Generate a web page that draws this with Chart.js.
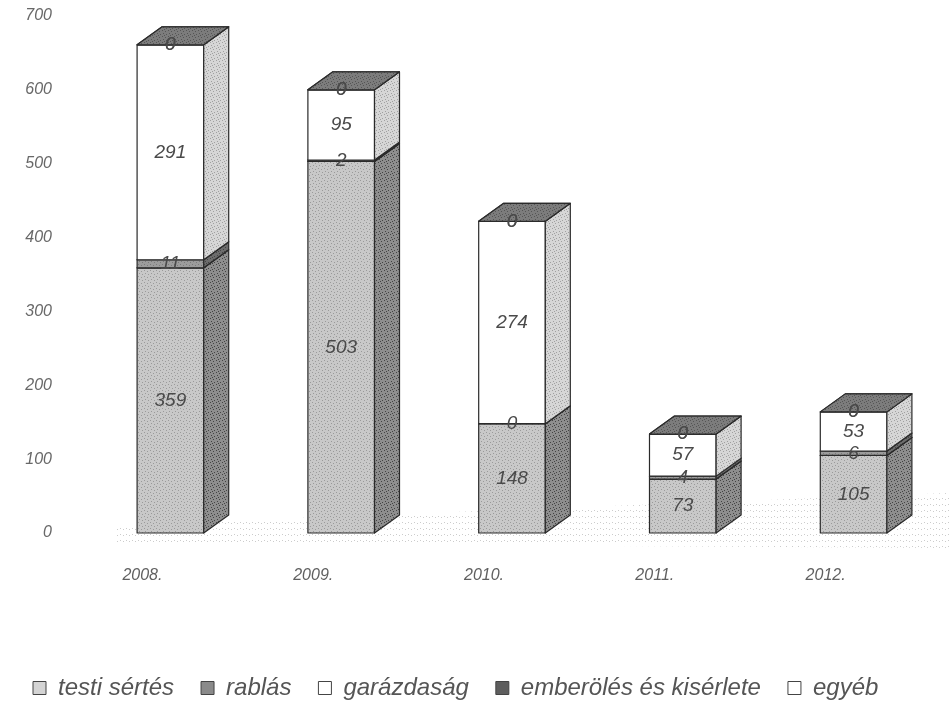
<!DOCTYPE html>
<html>
<head>
<meta charset="utf-8">
<script src="https://cdn.jsdelivr.net/npm/chart.js@4.4.1/dist/chart.umd.min.js"></script>
<style>
  html, body { margin: 0; padding: 0; background: #ffffff; }
  #wrap { width: 949px; height: 710px; position: relative; }
</style>
</head>
<body>
<div id="wrap"><canvas id="c" width="949" height="710"></canvas></div>
<script>
// ---- Data ----
const categories = ['2008.', '2009.', '2010.', '2011.', '2012.'];
const testiSertes = [359, 503, 148, 73, 105];
const rablas = [11, 2, 0, 4, 6];
const garazdasag = [291, 95, 274, 57, 53];
const emberoles = [0, 0, 0, 0, 0];
const egyeb = [0, 0, 0, 0, 0];
const seriesNames = ['testi sértés', 'rablás', 'garázdaság', 'emberölés és kisérlete', 'egyéb'];
const yMin = 0, yMax = 700, yStep = 100;

// ---- Styling ----
const FONT = 'Liberation Sans, Arial, sans-serif';
const faces = [
  { front: '#c8c8c8', side: '#8e8e8e', top: '#a8a8a8', dot: '#9a9a9a' },
  { front: '#9c9c9c', side: '#6c6c6c', top: '#808080', dot: '#7a7a7a' },
  { front: '#ffffff', side: '#d6d6d6', top: '#ececec', dot: '#b8b8b8' },
  { front: '#767676', side: '#505050', top: '#7c7c7c', dot: '#4e4e4e' },
  { front: '#ffffff', side: '#d6d6d6', top: '#ececec', dot: '#b8b8b8' }
];
const DX = 25, DY = 18;

function makePattern(base, dot, density) {
  const c = document.createElement('canvas');
  c.width = 6; c.height = 6;
  const g = c.getContext('2d');
  g.fillStyle = base; g.fillRect(0, 0, 6, 6);
  g.fillStyle = dot;
  const pts = [[0,0],[3,1],[1,3],[4,4],[2,5],[5,2],[0,4],[3,3]];
  for (let k = 0; k < density; k++) g.fillRect(pts[k][0], pts[k][1], 1, 1);
  return g.createPattern(c, 'repeat');
}

const bar3d = {
  id: 'bar3d',
  beforeDatasetsDraw(chart) {
    const ctx = chart.ctx;
    const ds = chart.data.datasets;
    const pats = faces.map(f => ({
      front: f.front === '#ffffff' ? '#ffffff' : makePattern(f.front, f.dot, 4),
      side: makePattern(f.side, f.dot === '#b8b8b8' ? '#a0a0a0' : '#444444', 5),
      top: makePattern(f.top, '#555555', 5)
    }));
    // floor stipple
    const xs = chart.scales.x, ys = chart.scales.y;
    const y0 = ys.getPixelForValue(0);
    ctx.save();
    ctx.fillStyle = makePattern('#ffffff', '#cccccc', 2);
    ctx.beginPath();
    ctx.moveTo(xs.left + 30, y0 - 8);
    ctx.lineTo(chart.width, y0 - 40);
    ctx.lineTo(chart.width, y0 + 15);
    ctx.lineTo(xs.left + 30, y0 + 10);
    ctx.closePath();
    ctx.fill();
    ctx.restore();

    const n = chart.data.labels.length;
    for (let i = 0; i < n; i++) {
      for (let d = 0; d < ds.length; d++) {
        const meta = chart.getDatasetMeta(d);
        if (!chart.isDatasetVisible(d)) continue;
        const el = meta.data[i];
        const p = el.getProps(['x', 'y', 'base', 'width'], true);
        const l = p.x - p.width / 2, r = p.x + p.width / 2;
        const t = Math.min(p.y, p.base), b = Math.max(p.y, p.base);
        const v = ds[d].data[i];
        if (v === 0 && d === ds.length - 1) continue;
        ctx.save();
        ctx.strokeStyle = '#2a2a2a';
        ctx.lineWidth = 1.2;
        ctx.lineJoin = 'round';
        if (b - t > 0) {
          ctx.fillStyle = pats[d].front;
          ctx.fillRect(l, t, r - l, b - t);
          ctx.strokeRect(l, t, r - l, b - t);
          ctx.beginPath();
          ctx.moveTo(r, t); ctx.lineTo(r + DX, t - DY);
          ctx.lineTo(r + DX, b - DY); ctx.lineTo(r, b); ctx.closePath();
          ctx.fillStyle = pats[d].side; ctx.fill(); ctx.stroke();
        }
        ctx.beginPath();
        ctx.moveTo(l, t); ctx.lineTo(l + DX, t - DY);
        ctx.lineTo(r + DX, t - DY); ctx.lineTo(r, t); ctx.closePath();
        ctx.fillStyle = pats[d].top; ctx.fill(); ctx.stroke();
        ctx.restore();
      }
    }
    // value labels
    ctx.save();
    ctx.font = 'italic 19px ' + FONT;
    ctx.fillStyle = '#4a4a4a';
    ctx.textAlign = 'center';
    ctx.textBaseline = 'middle';
    for (let i = 0; i < n; i++) {
      for (let d = 0; d < ds.length; d++) {
        const el = chart.getDatasetMeta(d).data[i];
        const p = el.getProps(['x', 'y', 'base'], true);
        const v = ds[d].data[i];
        const cy = (p.y + p.base) / 2;
        ctx.fillText(String(v), p.x, cy);
      }
    }
    ctx.restore();
    return false;
  }
};

const allSeries = [testiSertes, rablas, garazdasag, emberoles, egyeb];
const legendFill = ['#d4d4d4', '#8a8a8a', '#ffffff', '#5e5e5e', '#ffffff'];

new Chart(document.getElementById('c'), {
  type: 'bar',
  data: {
    labels: categories,
    datasets: allSeries.map((s, k) => ({
      label: seriesNames[k],
      data: s,
      backgroundColor: legendFill[k],
      borderColor: '#444444',
      borderWidth: 1
    }))
  },
  options: {
    responsive: false,
    animation: false,
    devicePixelRatio: 1,
    layout: { padding: { left: 6, right: 10, top: 16, bottom: 0 } },
    datasets: { bar: { categoryPercentage: 1.0, barPercentage: 0.39 } },
    scales: {
      x: {
        stacked: true,
        grid: { display: false },
        border: { display: false },
        ticks: {
          color: '#606060',
          font: { family: FONT, size: 16, style: 'italic' },
          padding: 25,
          labelOffset: -28,
          maxRotation: 0
        },
        afterFit(scale) { scale.height = 116; }
      },
      y: {
        stacked: true,
        min: yMin, max: yMax,
        grid: { display: false },
        border: { display: false },
        ticks: {
          stepSize: yStep,
          color: '#686868',
          font: { family: FONT, size: 16, style: 'italic' },
          padding: 25
        },
        afterFit(scale) { scale.width = 79; scale.paddingTop = 0; scale.paddingBottom = 0; }
      }
    },
    plugins: {
      tooltip: { enabled: false },
      legend: {
        position: 'bottom',
        align: 'start',
        labels: {
          color: '#555555',
          font: { family: FONT, size: 24, style: 'italic' },
          boxWidth: 13,
          boxHeight: 13,
          padding: 27
        }
      }
    }
  },
  plugins: [bar3d]
});
</script>
</body>
</html>
